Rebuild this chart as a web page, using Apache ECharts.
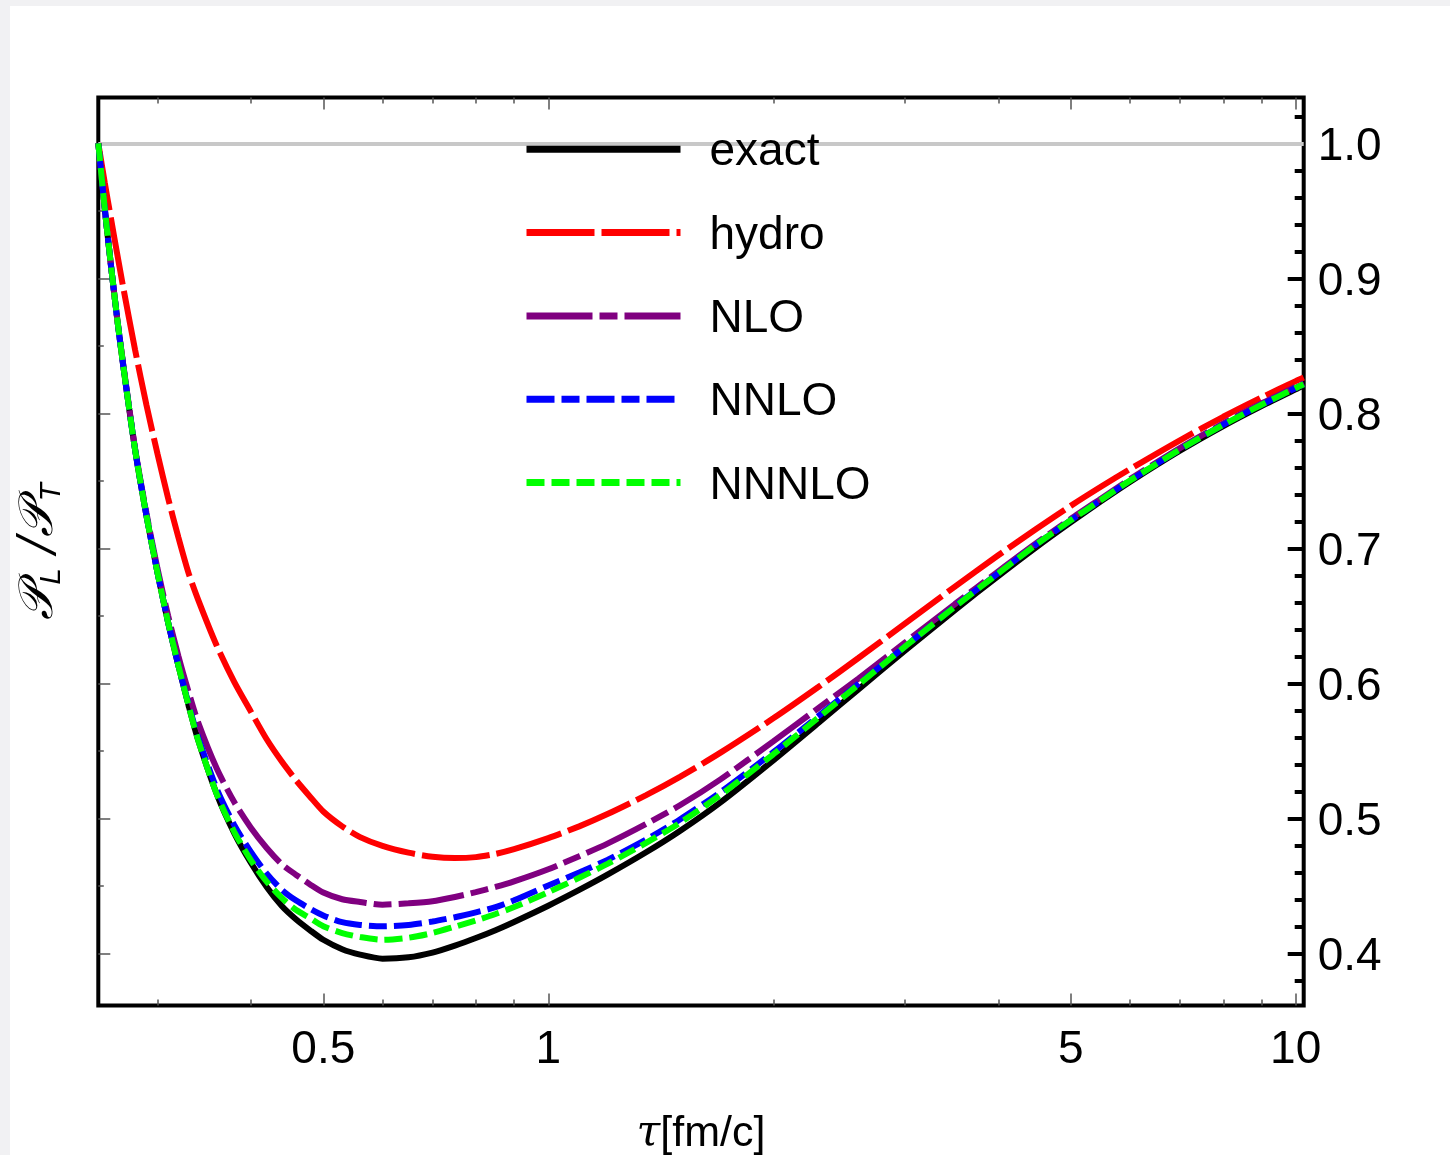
<!DOCTYPE html>
<html>
<head>
<meta charset="utf-8">
<script src="https://cdn.jsdelivr.net/npm/echarts@6/dist/echarts.min.js"></script>
<style>
html,body{margin:0;padding:0;background:#f1f1f3;width:1450px;height:1155px;overflow:hidden;}
#chart{position:absolute;left:10px;top:6px;width:1440px;height:1149px;background:#ffffff;}
</style>
</head>
<body>
<div id="chart"></div>
<script>
// ---- data ----
const tau = [0.25,0.255,0.26,0.265,0.27,0.28,0.29,0.30,0.31,0.32,0.33,0.34,0.36,0.38,0.40,0.42,0.44,0.46,0.48,0.50,0.53,0.56,0.60,0.65,0.70,0.75,0.80,0.85,0.90,1.0,1.1,1.2,1.35,1.5,1.7,2.0,2.3,2.6,3.0,3.5,4.0,4.5,5.0,5.5,6.0,7.0,8.0,9.0,10.0,10.25];
const exact = [1.000,0.952,0.909,0.870,0.835,0.773,0.724,0.682,0.645,0.613,0.584,0.558,0.518,0.489,0.467,0.449,0.435,0.425,0.417,0.410,0.403,0.399,0.396,0.397,0.4005,0.4057,0.4113,0.4171,0.4232,0.4352,0.4469,0.4582,0.4746,0.4906,0.5118,0.5429,0.5708,0.5955,0.6241,0.6542,0.6794,0.7009,0.7192,0.7351,0.7491,0.7722,0.7905,0.8053,0.8177,0.8205];
const hydro = [1.000,0.971,0.944,0.918,0.893,0.847,0.806,0.770,0.737,0.708,0.682,0.662,0.628,0.601,0.579,0.5585,0.542,0.528,0.516,0.505,0.494,0.486,0.4795,0.4745,0.4715,0.4705,0.4712,0.4736,0.4771,0.4853,0.494,0.5031,0.5169,0.5306,0.5486,0.574,0.5974,0.6187,0.6442,0.6716,0.6948,0.7145,0.7314,0.7459,0.7586,0.780,0.7974,0.8117,0.8238,0.8265];
const nlo = [1.000,0.952,0.909,0.870,0.836,0.774,0.726,0.685,0.650,0.620,0.594,0.571,0.537,0.512,0.493,0.478,0.466,0.458,0.451,0.445,0.440,0.438,0.436,0.437,0.4385,0.4417,0.4453,0.4491,0.4532,0.4622,0.4719,0.4812,0.4956,0.5096,0.5288,0.5569,0.5818,0.6035,0.6301,0.6587,0.6829,0.7039,0.7217,0.7371,0.7511,0.7742,0.7925,0.8073,0.8197,0.8225];
const nnlo = [1.000,0.952,0.909,0.870,0.835,0.773,0.724,0.682,0.645,0.613,0.585,0.560,0.522,0.495,0.475,0.459,0.447,0.439,0.433,0.428,0.423,0.421,0.420,0.421,0.4235,0.4267,0.4303,0.4341,0.4392,0.4502,0.4599,0.4692,0.4841,0.4991,0.5193,0.5489,0.5758,0.5995,0.6271,0.657,0.6816,0.7029,0.7207,0.7361,0.7501,0.7732,0.7915,0.8063,0.8187,0.8215];
const nnnlo = [1.000,0.952,0.909,0.870,0.835,0.773,0.724,0.682,0.645,0.613,0.584,0.558,0.518,0.490,0.469,0.453,0.441,0.432,0.426,0.420,0.415,0.412,0.410,0.4115,0.415,0.4197,0.4243,0.4291,0.4342,0.4452,0.4559,0.4662,0.4816,0.4966,0.5173,0.5474,0.5748,0.599,0.6271,0.6567,0.6814,0.7029,0.7207,0.7361,0.7501,0.7732,0.7915,0.8063,0.8187,0.8215];

const seriesNames = ['exact','hydro','NLO','NNLO','NNNLO'];
const xMajorTicks = [0.5, 1, 5, 10];
const xMinorTicks = [0.3, 0.4, 0.6, 0.7, 0.8, 0.9, 2, 3, 4, 6, 7, 8, 9];
const yMajorTicks = [0.4, 0.5, 0.6, 0.7, 0.8, 0.9, 1.0];
const yHalfTicks = [0.45, 0.55, 0.65, 0.75, 0.85, 0.95];
const yMinorTicks = [0.38,0.42,0.44,0.46,0.48,0.52,0.54,0.56,0.58,0.62,0.64,0.66,0.68,0.72,0.74,0.76,0.78,0.82,0.84,0.86,0.88,0.92,0.94,0.96,0.98,1.02];
const referenceLevel = 1.0;

// ---- chart ----
const FONT = 'Liberation Sans, Arial, sans-serif';
const X_MIN = 0.25, X_MAX = 10.25, Y_MIN = 0.3613, Y_MAX = 1.0339;
const pairs = vals => tau.map((t, i) => [t, vals[i]]);

function xAx(position, ticks, len, extra) {
  return Object.assign({
    type: 'log', logBase: 10, min: X_MIN, max: X_MAX, position: position, gridIndex: 0,
    axisLine: { show: false, onZero: false },
    splitLine: { show: false },
    axisTick: { show: true, inside: true, length: len, customValues: ticks,
                lineStyle: { color: '#555', width: 1.5 } },
    axisLabel: { show: false }
  }, extra || {});
}
function yAx(position, ticks, len, color, width, extra) {
  return Object.assign({
    type: 'value', min: Y_MIN, max: Y_MAX, position: position, gridIndex: 0,
    axisLine: { show: false, onZero: false },
    splitLine: { show: false },
    axisTick: { show: true, inside: true, length: len, customValues: ticks,
                lineStyle: { color: color, width: width } },
    axisLabel: { show: false }
  }, extra || {});
}

const option = {
  animation: false,
  backgroundColor: '#ffffff',
  grid: {
    left: 88.3, top: 91.5, right: 146.3, bottom: 149.5,
    outerBoundsMode: 'none', containLabel: false,
    show: true, borderColor: '#000', borderWidth: 4, backgroundColor: 'transparent'
  },
  legend: {
    orient: 'vertical', left: 513, top: 116.8, padding: 0, z: 6,
    itemWidth: 154, itemHeight: 2, itemGap: 30.3, selectedMode: false,
    data: seriesNames,
    lineStyle: { width: 7 },
    itemStyle: { opacity: 0 },
    formatter: name => '{t|' + name + '}',
    textStyle: { fontSize: 46, fontFamily: FONT, color: '#000',
                 rich: { t: { fontSize: 46, fontFamily: FONT, color: '#000', lineHeight: 46, padding: [7, 0, 0, 24] } } }
  },
  xAxis: [
    xAx('bottom', xMajorTicks, 12, {
      axisLabel: { show: true, customValues: xMajorTicks, fontSize: 46, fontFamily: FONT, color: '#000', margin: 22,
                   formatter: v => String(+(+v).toPrecision(4)) },
      name: '{i|τ}[fm/c]', nameLocation: 'middle', nameGap: 107,
      nameTextStyle: { fontSize: 43, fontFamily: FONT, color: '#000',
                       rich: { i: { fontSize: 43, fontFamily: 'DejaVu Serif', fontStyle: 'italic', color: '#000' } } }
    }),
    xAx('bottom', xMinorTicks, 6),
    xAx('top', xMajorTicks, 12),
    xAx('top', xMinorTicks, 6)
  ],
  yAxis: [
    yAx('left', yMajorTicks, 12, '#555', 1.5, {
      name: '{p|𝒫}{s|L}{p| /}{p|𝒫}{s|T}', nameLocation: 'middle', nameGap: 32, nameRotate: 90,
      nameTextStyle: { color: '#000', rich: {
        p: { fontSize: 48, fontFamily: 'DejaVu Serif', fontStyle: 'italic', color: '#000', lineHeight: 54 },
        s: { fontSize: 30, fontFamily: FONT, fontStyle: 'italic', color: '#000', verticalAlign: 'bottom' }
      } }
    }),
    yAx('left', yHalfTicks, 5.5, '#555', 1.5),
    yAx('right', yMajorTicks, 16, '#000', 4, {
      axisLabel: { show: true, customValues: yMajorTicks, margin: 14,
                   formatter: v => '{n|' + (+v).toFixed(1) + '}',
                   rich: { n: { fontSize: 46, fontFamily: FONT, color: '#000', padding: [8, 0, 0, 0] } } }
    }),
    yAx('right', yMinorTicks, 9, '#000', 4)
  ],
  series: [
    { name: 'exact', type: 'line', data: pairs(exact), color: '#000000',
      lineStyle: { color: '#000000', width: 6, type: 'solid' },
      markLine: { silent: true, symbol: 'none', label: { show: false }, z: 1,
                  lineStyle: { color: '#c8c8c8', width: 4, type: 'solid' },
                  data: [{ yAxis: referenceLevel }] } },
    { name: 'hydro', type: 'line', data: pairs(hydro), color: '#ff0000',
      lineStyle: { color: '#ff0000', width: 6, type: [68, 7] } },
    { name: 'NLO', type: 'line', data: pairs(nlo), color: '#800080',
      lineStyle: { color: '#800080', width: 6, type: [66, 7, 18, 7] } },
    { name: 'NNLO', type: 'line', data: pairs(nnlo), color: '#0000ff',
      lineStyle: { color: '#0000ff', width: 6, type: [28, 7, 18, 7] } },
    { name: 'NNNLO', type: 'line', data: pairs(nnnlo), color: '#00ff00',
      lineStyle: { color: '#00ff00', width: 6, type: [18, 7] } }
  ].map(s => Object.assign({ xAxisIndex: 0, yAxisIndex: 0, symbol: 'none', showSymbol: false,
                             smooth: 0.25, clip: true }, s))
};

const chart = echarts.init(document.getElementById('chart'), null, { renderer: 'canvas' });
chart.setOption(option);
</script>
</body>
</html>
